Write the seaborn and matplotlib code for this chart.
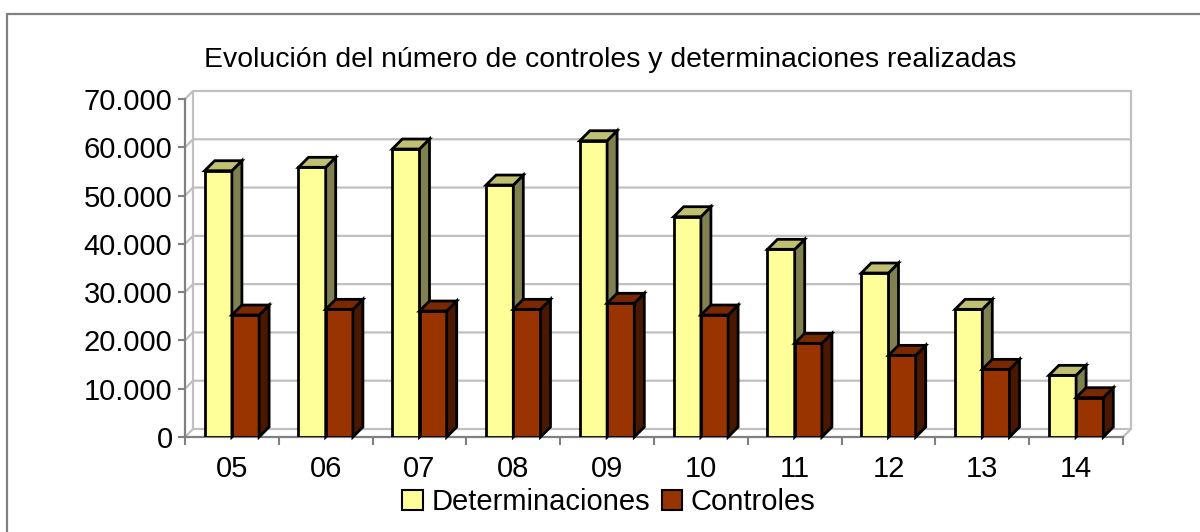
import numpy as np
import pandas as pd
import matplotlib
matplotlib.use("Agg")
import matplotlib.pyplot as plt
import seaborn as sns
from matplotlib.patches import Polygon, Patch
from matplotlib.lines import Line2D

# Data
years = ["05", "06", "07", "08", "09", "10", "11", "12", "13", "14"]
determinaciones = [55150, 55850, 59640, 52180, 61360, 45620, 38870, 33960, 26440, 12770]
controles = [25260, 26440, 26090, 26440, 27690, 25260, 19400, 16910, 14010, 8140]
series_names = ["Determinaciones", "Controles"]
y_ticks = [0, 10000, 20000, 30000, 40000, 50000, 60000, 70000]
title = "Evolución del número de controles y determinaciones realizadas"

# Colours (front, top, side) per series
front_colors = ["#FFFF99", "#993300"]
top_colors = ["#C0C072", "#7A2800"]
side_colors = ["#808050", "#4A1800"]
grid_color = "#C0C0C0"
axis_color = "#808080"

DEPTH = 10     # pixel depth of the bars
WALL = 8       # pixel depth of the back wall

df = pd.DataFrame({
    "Año": years * 2,
    "Valor": determinaciones + controles,
    "Serie": [series_names[0]] * len(years) + [series_names[1]] * len(years),
})

sns.set_theme(style="white", rc={"text.color": "black", "xtick.color": "black",
                                 "ytick.color": "black", "axes.labelcolor": "black"})
plt.rcParams["font.family"] = ["Liberation Sans", "DejaVu Sans"]

W, H = 1200, 532
fig = plt.figure(figsize=(W / 100, H / 100), dpi=100)
ax = fig.add_axes([185 / W, 1 - 437 / H, (1123 - 185) / W, (437 - 99) / H])

sns.barplot(data=df, x="Año", y="Valor", hue="Serie", palette=front_colors,
            width=0.58, edgecolor="black", linewidth=2, ax=ax, legend=False,
            saturation=1, zorder=3)
ax.set_xlim(-0.5, len(years) - 0.5)
ax.set_ylim(y_ticks[0], y_ticks[-1])

to_px = ax.transData.transform
to_data = ax.transData.inverted().transform


def shifted(points_px):
    return to_data(np.array(points_px))


# back wall, left wall and floor lines
(xl, y0), (xr, ytop) = to_px([(-0.5, y_ticks[0]), (len(years) - 0.5, y_ticks[-1])])
for v in y_ticks:
    yv = to_px([(0, v)])[0][1]
    pts = shifted([(xl, yv), (xl + WALL, yv + WALL), (xr + WALL, yv + WALL)])
    ax.add_line(Line2D(pts[:, 0], pts[:, 1], color=grid_color, lw=1.6,
                       clip_on=False, zorder=1))
for x in (xl, xr):
    pts = shifted([(x + WALL, y0 + WALL), (x + WALL, ytop + WALL)])
    ax.add_line(Line2D(pts[:, 0], pts[:, 1], color=grid_color, lw=1.6,
                       clip_on=False, zorder=1))
pts = shifted([(xr, y0), (xr + WALL, y0 + WALL)])
ax.add_line(Line2D(pts[:, 0], pts[:, 1], color=grid_color, lw=1.6,
                   clip_on=False, zorder=1))

# 3D tops and sides of each bar
n = len(years)
for i, bar in enumerate(ax.patches[:2 * n]):
    s = i // n
    x0, y_b = bar.get_x(), bar.get_y()
    x1, y_t = x0 + bar.get_width(), y_b + bar.get_height()
    (px0, pyb), (px1, pyt) = to_px([(x0, y_b), (x1, y_t)])
    top = shifted([(px0, pyt), (px1, pyt), (px1 + DEPTH, pyt + DEPTH), (px0 + DEPTH, pyt + DEPTH)])
    side = shifted([(px1, pyb), (px1 + DEPTH, pyb + DEPTH), (px1 + DEPTH, pyt + DEPTH), (px1, pyt)])
    z = 3 + s
    bar.set_zorder(z)
    ax.add_patch(Polygon(side, closed=True, facecolor=side_colors[s], edgecolor="black",
                         lw=2, zorder=z, clip_on=False, joinstyle="miter"))
    ax.add_patch(Polygon(top, closed=True, facecolor=top_colors[s], edgecolor="black",
                         lw=2, zorder=z, clip_on=False, joinstyle="miter"))

# axes styling
for side_name in ["top", "right"]:
    ax.spines[side_name].set_visible(False)
for side_name in ["left", "bottom"]:
    ax.spines[side_name].set_color(axis_color)
    ax.spines[side_name].set_linewidth(1.6)
    ax.spines[side_name].set_zorder(2)

ax.set_yticks(y_ticks)
ax.set_yticklabels([f"{v:,}".replace(",", ".") for v in y_ticks])
ax.tick_params(axis="y", direction="out", length=5, width=1.5, color=axis_color,
               labelsize=21, pad=4, left=True, labelcolor="black")
ax.set_xticks(range(n))
ax.set_xticklabels(years)
ax.set_xticks(np.arange(-0.5, n, 1.0), minor=True)
ax.tick_params(axis="x", which="major", length=0, labelsize=21, pad=13, labelcolor="black")
ax.tick_params(axis="x", which="minor", direction="out", length=6, width=1.5,
               color=axis_color, bottom=True)
ax.set_xlabel("")
ax.set_ylabel("")
ax.grid(False)
ax.patch.set_alpha(0)

fig.text(610 / W, 1 - 60 / H, title, ha="center", va="center", fontsize=20.4, color="black")

handles = [Patch(facecolor=front_colors[k], edgecolor="black", linewidth=1.5, label=series_names[k])
           for k in range(2)]
fig.legend(handles=handles, loc="center", bbox_to_anchor=(609 / W, 1 - 502 / H), ncol=2,
           frameon=False, fontsize=21, handlelength=0.7, handleheight=0.7,
           handletextpad=0.3, columnspacing=0.4, labelcolor="black")

# outer border (top and left edges visible)
fig.add_artist(Line2D([7 / W, 1], [1 - 14 / H, 1 - 14 / H], transform=fig.transFigure,
                      color=axis_color, lw=1.6))
fig.add_artist(Line2D([7 / W, 7 / W], [0, 1 - 14 / H], transform=fig.transFigure,
                      color=axis_color, lw=1.6))

fig.savefig("out.png", dpi=100)
